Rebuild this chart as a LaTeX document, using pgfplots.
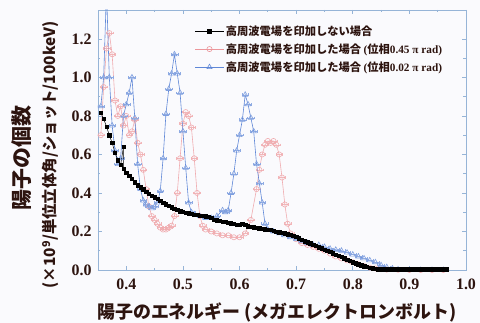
\documentclass[border=0pt]{standalone}
\usepackage{pgfplots}
\pgfplotsset{compat=1.18}
\usepackage{fontspec}
\setmainfont{Liberation Serif}
\newfontfamily\jp{Noto Sans CJK JP}
\definecolor{pinkc}{RGB}{236,150,155}
\definecolor{bluec}{RGB}{95,135,215}
\definecolor{framec}{RGB}{150,180,215}
\definecolor{txtc}{RGB}{45,20,15}
\definecolor{bgc}{RGB}{250,250,253}
\begin{document}
\begin{tikzpicture}
\useasboundingbox (-98bp,-53bp) rectangle (382bp,270bp);
\fill[bgc] (-98bp,-53bp) rectangle (382bp,270bp);
\begin{axis}[
  scale only axis, width=368bp, height=260bp,
  xmin=0.35, xmax=1.0, ymin=0, ymax=1.35,
  xtick={0.4,0.5,0.6,0.7,0.8,0.9,1.0},
  ytick={0,0.2,0.4,0.6,0.8,1.0,1.2},
  minor x tick num=1, minor y tick num=1,
  tick align=inside, tick pos=both,
  major tick length=4bp, minor tick length=2.5bp,
  axis line style={framec, line width=0.8pt},
  every tick/.style={framec, line width=0.7pt},
  /pgf/number format/assume math mode=true,
  /pgf/number format/.cd, fixed, fixed zerofill, precision=1, /pgfplots/.cd,
  ticklabel style={font=\fontsize{16}{16}\selectfont\bfseries, text=txtc},
  xticklabel style={yshift=-5bp},
  yticklabel style={xshift=-3bp},
  xlabel={\jp\bfseries 陽子のエネルギー (メガエレクトロンボルト)},
  xlabel style={font=\fontsize{18}{18}\selectfont, text=txtc, at={(axis description cs:0.486,-0.165)}, anchor=center},
  ylabel={\jp\bfseries (×10\textsuperscript{9}/単位立体角/ショット/100keV)},
  ylabel style={font=\fontsize{15.5}{16}\selectfont, text=txtc, at={(axis description cs:-0.13,0.442)}, anchor=center},
  legend style={at={(0.255,0.957)}, anchor=north west, draw=none, fill=none,
    font=\fontsize{11.3}{11.3}\selectfont\jp\bfseries, text=txtc, row sep=3bp,
    /tikz/every even column/.append style={column sep=2bp}},
  legend cell align=left,
  legend image code/.code={\draw[mark repeat=2,mark phase=2,#1] plot coordinates {(0cm,0cm) (0.5cm,0cm) (1cm,0cm)};},
  clip=true,
]
\addlegendimage{black, line width=0.5pt, mark=square*, mark size=2pt, mark options={solid,fill=black}}
\addlegendentry{高周波電場を印加しない場合}
\addlegendimage{pinkc, line width=0.6pt, mark=o, mark size=2.6pt, mark options={solid,fill=white}}
\addlegendentry{高周波電場を印加した場合 {\rmfamily\bfseries (}位相{\rmfamily\bfseries 0.45 π rad)}}
\addlegendimage{bluec, line width=0.6pt, mark=triangle, mark size=3pt, mark options={solid,fill=white}}
\addlegendentry{高周波電場を印加した場合 {\rmfamily\bfseries (}位相{\rmfamily\bfseries 0.02 π rad)}}

% phase 0.45 pi rad
\addplot[pinkc!80, line width=0.6pt, mark=o, mark size=2.6pt, mark options={solid,draw=pinkc!80},
  error bars/.cd, x dir=both, x fixed=0.006, error bar style={pinkc!70, line width=0.4pt}, error mark options={pinkc!70, rotate=90, mark size=1.3pt}]
coordinates {
(0.355,0.70) (0.36,0.95) (0.365,1.15) (0.37,1.23) (0.375,1.12) (0.38,0.88) (0.385,0.80)
(0.39,0.85) (0.395,0.75) (0.40,0.80) (0.405,0.70) (0.41,0.72) (0.415,0.78) (0.42,0.66)
(0.425,0.60) (0.43,0.52) (0.435,0.42) (0.44,0.33) (0.445,0.28) (0.45,0.26) (0.455,0.24)
(0.46,0.22) (0.465,0.21) (0.47,0.21) (0.475,0.22) (0.48,0.23) (0.485,0.28) (0.49,0.40)
(0.495,0.58) (0.50,0.76) (0.505,0.82) (0.51,0.80) (0.515,0.74) (0.52,0.58) (0.525,0.40)
(0.53,0.28) (0.535,0.23) (0.54,0.21) (0.55,0.20) (0.56,0.19) (0.57,0.18) (0.58,0.18)
(0.59,0.17) (0.60,0.17) (0.61,0.19) (0.62,0.26) (0.63,0.42) (0.635,0.52) (0.64,0.60)
(0.645,0.65) (0.65,0.67) (0.655,0.66) (0.66,0.67) (0.665,0.65) (0.67,0.60) (0.675,0.48)
(0.68,0.34) (0.685,0.24) (0.69,0.19) (0.70,0.16) (0.71,0.14) (0.72,0.13) (0.73,0.12)
(0.74,0.11) (0.75,0.10) (0.76,0.085) (0.77,0.07) (0.78,0.06) (0.79,0.05) (0.80,0.04)
(0.81,0.03) (0.82,0.02) (0.83,0.012) (0.84,0.008) (0.85,0.004) (0.86,0.002) (0.88,0.001)
(0.90,0) (0.92,0) (0.94,0) (0.96,0)
};

% phase 0.02 pi rad
\addplot[bluec, line width=0.6pt, mark=triangle, mark size=3pt, mark options={solid,draw=bluec!80},
  error bars/.cd, x dir=both, x fixed=0.006, error bar style={bluec!70, line width=0.4pt}, error mark options={bluec!70, rotate=90, mark size=1.3pt}]
coordinates {
(0.355,0.85) (0.36,1.00) (0.365,1.45) (0.37,1.00) (0.375,0.75) (0.38,0.62) (0.385,0.55)
(0.39,0.58) (0.395,0.80) (0.40,0.86) (0.405,0.92) (0.41,1.00) (0.415,0.79) (0.42,0.55)
(0.425,0.42) (0.43,0.36) (0.435,0.34) (0.44,0.33) (0.445,0.32) (0.45,0.33) (0.455,0.35)
(0.46,0.41) (0.465,0.58) (0.47,0.81) (0.475,0.94) (0.48,1.02) (0.485,1.12) (0.49,1.02)
(0.495,0.92) (0.50,0.72) (0.505,0.53) (0.51,0.35) (0.515,0.30) (0.52,0.29) (0.53,0.28)
(0.54,0.27) (0.55,0.27) (0.56,0.28) (0.57,0.31) (0.575,0.30) (0.58,0.31) (0.585,0.40)
(0.59,0.50) (0.595,0.62) (0.60,0.70) (0.605,0.78) (0.61,0.91) (0.615,0.86) (0.62,0.79)
(0.625,0.72) (0.63,0.55) (0.635,0.45) (0.64,0.35) (0.645,0.24) (0.65,0.21) (0.66,0.20)
(0.67,0.19) (0.68,0.18) (0.69,0.17) (0.70,0.16) (0.71,0.15) (0.72,0.14) (0.73,0.13)
(0.74,0.13) (0.75,0.12) (0.76,0.11) (0.77,0.105) (0.78,0.10) (0.79,0.09) (0.80,0.08)
(0.81,0.07) (0.82,0.06) (0.83,0.05) (0.84,0.04) (0.85,0.025) (0.86,0.015) (0.87,0.008)
(0.88,0.003) (0.90,0) (0.92,0) (0.94,0) (0.96,0)
};

% no field
\addplot[black, line width=0.5pt, mark=square*, mark size=1.7pt, mark options={solid,fill=black}]
coordinates {
(0.355,0.815) (0.36,0.785) (0.365,0.745) (0.37,0.700) (0.375,0.660) (0.38,0.610) (0.385,0.570)
(0.39,0.545) (0.395,0.640) (0.395,0.525) (0.40,0.505) (0.405,0.490) (0.41,0.475) (0.415,0.455)
(0.42,0.440) (0.425,0.430) (0.43,0.420) (0.435,0.405) (0.44,0.395) (0.445,0.385) (0.45,0.378)
(0.455,0.370) (0.46,0.360) (0.465,0.350) (0.47,0.342) (0.475,0.335) (0.48,0.325) (0.485,0.318)
(0.49,0.312) (0.495,0.305) (0.50,0.302) (0.505,0.298) (0.51,0.295) (0.515,0.292) (0.52,0.288)
(0.525,0.286) (0.53,0.283) (0.535,0.281) (0.54,0.280) (0.545,0.278) (0.55,0.270) (0.555,0.262)
(0.56,0.258) (0.565,0.255) (0.57,0.252) (0.575,0.250) (0.58,0.246) (0.585,0.242) (0.59,0.240)
(0.595,0.236) (0.60,0.236) (0.605,0.240) (0.61,0.236) (0.615,0.228) (0.62,0.224) (0.625,0.222)
(0.63,0.220) (0.635,0.216) (0.64,0.214) (0.645,0.212) (0.65,0.210) (0.655,0.208) (0.66,0.204)
(0.665,0.200) (0.67,0.196) (0.675,0.193) (0.68,0.190) (0.685,0.186) (0.69,0.182) (0.695,0.178)
(0.70,0.172) (0.705,0.165) (0.71,0.158) (0.715,0.150) (0.72,0.144) (0.725,0.138) (0.73,0.132)
(0.735,0.125) (0.74,0.118) (0.745,0.112) (0.75,0.106) (0.755,0.100) (0.76,0.094) (0.765,0.087)
(0.77,0.080) (0.775,0.074) (0.78,0.068) (0.785,0.061) (0.79,0.054) (0.795,0.047) (0.80,0.041)
(0.805,0.035) (0.81,0.029) (0.815,0.024) (0.82,0.020) (0.825,0.016) (0.83,0.012) (0.835,0.009)
(0.84,0.006) (0.845,0.004) (0.85,0.003) (0.855,0.003) (0.86,0.003) (0.865,0.003) (0.87,0.003)
(0.875,0.003) (0.88,0.003) (0.885,0.003) (0.89,0.003) (0.895,0.003) (0.90,0.003) (0.905,0.003)
(0.91,0.003) (0.915,0.003) (0.92,0.003) (0.925,0.003) (0.93,0.003) (0.935,0.003) (0.94,0.003)
(0.945,0.003) (0.95,0.003) (0.955,0.003) (0.96,0.003) (0.965,0.003)
};
\end{axis}
\node[rotate=90, font=\fontsize{21}{21}\selectfont\jp\bfseries, text=txtc] at (-76bp,112bp) {陽子の個数};
\end{tikzpicture}
\end{document}
